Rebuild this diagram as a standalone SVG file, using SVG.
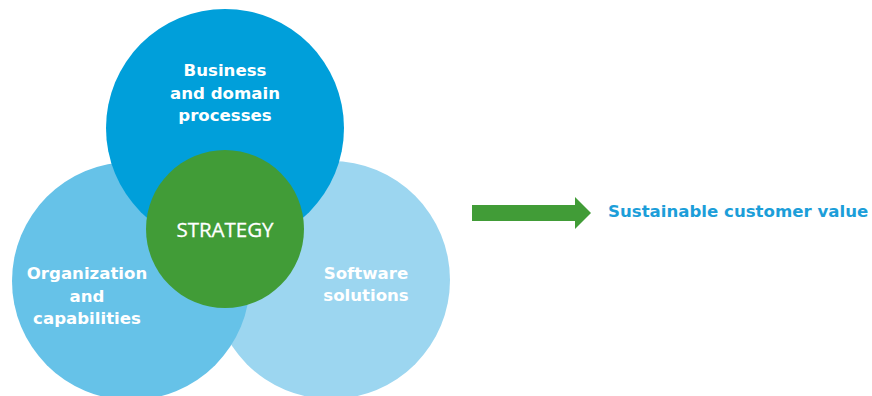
<svg xmlns="http://www.w3.org/2000/svg" width="872" height="396" viewBox="0 0 872 396">
  <style>
    .lbl { font-family: "DejaVu Sans", Verdana, sans-serif; font-weight: bold; font-size: 16.6px; fill: #ffffff; text-anchor: middle; }
    .strat { font-family: "Open Sans", "Liberation Sans", sans-serif; font-size: 20.5px; fill: #ffffff; stroke: #ffffff; stroke-width: 0.3; text-anchor: middle; }
    .out { font-family: "DejaVu Sans", Verdana, sans-serif; font-weight: bold; font-size: 16.6px; fill: #1c9ed9; }
  </style>
  <rect width="872" height="396" fill="#ffffff"/>
  <g id="software">
    <circle cx="331" cy="280" r="119" fill="#9cd6f0"/>
    <text class="lbl" x="366" y="279">Software</text>
    <text class="lbl" x="366" y="301">solutions</text>
  </g>
  <g id="organization">
    <circle cx="131" cy="281" r="119" fill="#66c2e8"/>
    <text class="lbl" x="87" y="279">Organization</text>
    <text class="lbl" x="87" y="302">and</text>
    <text class="lbl" x="87" y="324">capabilities</text>
  </g>
  <g id="business">
    <circle cx="225" cy="128" r="119" fill="#009fda"/>
    <text class="lbl" x="225" y="76">Business</text>
    <text class="lbl" x="225" y="98.5">and domain</text>
    <text class="lbl" x="225" y="121">processes</text>
  </g>
  <g id="strategy">
    <circle cx="225" cy="229" r="79" fill="#419c37"/>
    <text class="strat" x="225" y="237">STRATEGY</text>
  </g>
  <g id="connectors">
    <polygon points="472,205 575,205 575,197 591,213 575,229 575,221 472,221" fill="#419c37"/>
  </g>
  <g id="value">
    <text class="out" x="608" y="217">Sustainable customer value</text>
  </g>
</svg>
